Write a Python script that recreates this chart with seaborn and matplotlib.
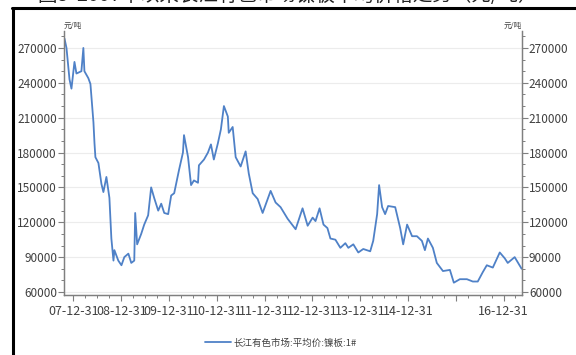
import numpy as np
import pandas as pd
import matplotlib
matplotlib.use('Agg')
from matplotlib import pyplot as plt
import matplotlib.dates as mdates
from matplotlib.lines import Line2D
import seaborn as sns

# 长江有色市场:平均价:镍板:1# (元/吨)
dates = ['2007-10-24', '2007-11-08', '2007-12-01', '2007-12-16', '2008-01-08', '2008-01-23',
         '2008-03-01', '2008-03-16', '2008-03-24', '2008-04-23', '2008-05-09', '2008-06-01',
         '2008-06-09', '2008-06-16', '2008-07-09', '2008-08-01', '2008-08-16', '2008-09-08',
         '2008-10-01', '2008-10-16', '2008-11-01', '2008-11-08', '2008-12-08', '2009-01-01',
         '2009-01-23', '2009-02-23', '2009-03-17', '2009-04-09', '2009-04-16', '2009-05-01',
         '2009-06-01', '2009-06-24', '2009-07-24', '2009-08-16', '2009-09-08', '2009-10-09',
         '2009-11-01', '2009-11-24', '2009-12-24', '2010-01-16', '2010-02-08', '2010-03-17',
         '2010-04-16', '2010-04-24', '2010-05-25', '2010-06-17', '2010-07-09', '2010-08-09',
         '2010-08-16', '2010-09-24', '2010-10-24', '2010-11-16', '2010-12-08', '2011-01-08',
         '2011-01-31', '2011-02-23', '2011-03-25', '2011-04-01', '2011-05-01', '2011-05-24',
         '2011-07-01', '2011-08-08', '2011-09-01', '2011-10-01', '2011-11-08', '2011-12-16',
         '2012-02-15', '2012-03-24', '2012-05-01', '2012-06-24', '2012-08-24', '2012-10-16',
         '2012-11-24', '2013-01-01', '2013-01-23', '2013-02-23', '2013-03-25', '2013-04-24',
         '2013-05-17', '2013-06-24', '2013-08-01', '2013-09-08', '2013-10-01', '2013-11-08',
         '2013-12-16', '2014-01-23', '2014-03-17', '2014-04-09', '2014-05-09', '2014-05-24',
         '2014-06-16', '2014-07-09', '2014-08-01', '2014-09-24', '2014-11-01', '2014-11-24',
         '2014-12-24', '2015-01-31', '2015-03-09', '2015-04-16', '2015-05-09', '2015-06-01',
         '2015-07-09', '2015-08-08', '2015-09-24', '2015-11-16', '2015-12-16', '2016-01-31',
         '2016-03-25', '2016-05-09', '2016-06-16', '2016-07-24', '2016-08-24', '2016-10-09',
         '2016-12-01', '2017-01-08', '2017-01-31', '2017-03-25', '2017-05-01', '2017-05-17']
prices = [278000, 270000, 243000, 235000, 258000, 248000,
          250000, 270000, 250000, 244000, 239000, 206000,
          188000, 176000, 171000, 153000, 146000, 159000,
          141000, 106000, 87000, 96000, 87000, 83000,
          90000, 93000, 85000, 87000, 128000, 101000,
          110000, 118000, 126000, 150000, 141000, 130000,
          136000, 128000, 127000, 143000, 145000, 165000,
          180000, 195000, 176000, 152000, 156000, 154000,
          169000, 174000, 180000, 187000, 174000, 188000,
          200000, 220000, 211000, 197000, 202000, 176000,
          168000, 181000, 162000, 145000, 140000, 128000,
          147000, 137000, 133000, 123000, 114000, 132000,
          117000, 124000, 121000, 132000, 118000, 115000,
          106000, 105000, 98000, 102000, 98000, 101000,
          94000, 97000, 95000, 104000, 127000, 152000,
          133000, 127000, 134000, 133000, 115000, 101000,
          118000, 108000, 108000, 104000, 96000, 106000,
          98000, 85000, 78000, 79000, 68000, 71000,
          71000, 69000, 69000, 77000, 83000, 81000,
          94000, 89000, 85000, 90000, 83000, 80000]

year_ticks = ['2007-12-31', '2008-12-31', '2009-12-31', '2010-12-31', '2011-12-31',
              '2012-12-31', '2013-12-31', '2014-12-31', '2015-12-31', '2016-12-31']
year_labels = ['07-12-31', '08-12-31', '09-12-31', '10-12-31', '11-12-31',
               '12-12-31', '13-12-31', '14-12-31', '', '16-12-31']
y_ticks = [60000, 90000, 120000, 150000, 180000, 210000, 240000, 270000]
series_name = '长江有色市场:平均价:镍板:1#'

df = pd.DataFrame({'date': pd.to_datetime(dates), 'price': prices})

sns.set_style('white')
plt.rcParams['font.family'] = ['Noto Sans CJK SC', 'DejaVu Sans']
plt.rcParams['axes.unicode_minus'] = False

line_c = '#4f81c7'
grey = '#7f7f7f'
txt = '#404040'

fig = plt.figure(figsize=(5.76, 3.55), dpi=100)
ax = fig.add_axes([64/576, 1-295/355, (522-64)/576, (295-31)/355])

sns.lineplot(data=df, x='date', y='price', ax=ax, color=line_c, lw=1.3,
             label=series_name, legend=False)

ylim = (57400, 284600)
ax.set_ylim(ylim)
ax.set_xlim(pd.Timestamp('2007-10-20'), pd.Timestamp('2017-05-20'))
ax.set_xlabel('')
ax.set_ylabel('')

ax.set_xticks(mdates.date2num(pd.to_datetime(year_ticks)))
ax.set_xticklabels(year_labels)
minor = pd.date_range('2007-12-31', '2017-03-31', freq='QE')
ax.set_xticks(mdates.date2num(minor), minor=True)

ax2 = ax.twinx()
for a in (ax, ax2):
    a.set_ylim(ylim)
    a.set_yticks(y_ticks)
    a.set_yticks(np.arange(60000, 280001, 10000), minor=True)
    a.set_yticklabels([str(v) for v in y_ticks])
    a.tick_params(axis='both', which='major', length=4, width=0.8, color=grey,
                  labelcolor=txt, labelsize=8.5, pad=1)
    a.tick_params(axis='both', which='minor', length=2.5, width=0.7, color=grey)
    for s in a.spines.values():
        s.set_color(grey)
        s.set_linewidth(0.9)
    a.spines['top'].set_visible(False)

ax.tick_params(axis='y', which='both', left=True, right=False)
ax2.tick_params(axis='y', which='both', right=True, left=False)
ax.tick_params(axis='x', which='both', bottom=True)
ax.tick_params(axis='x', which='major', pad=3, labelsize=9.0)
ax.grid(axis='y', color='#ececec', lw=0.8)
ax.set_axisbelow(True)

ax.text(0.0, 1.005, '元/吨', transform=ax.transAxes, fontsize=5.5, color=txt,
        ha='left', va='bottom')
ax.text(1.0, 1.005, '元/吨', transform=ax.transAxes, fontsize=5.5, color=txt,
        ha='right', va='bottom')

fig.legend(handles=[Line2D([], [], color=line_c, lw=1.3)], labels=[series_name],
           loc='center', bbox_to_anchor=(281/576, 1-343/355), frameon=False,
           fontsize=6.8, handlelength=2.7, handletextpad=0.3, labelcolor=txt)

# frame of the cut-out and the clipped caption above it
fig.add_artist(Line2D([12/576, 1], [1-8/355, 1-8/355], color='black', lw=2.2,
                      transform=fig.transFigure))
fig.add_artist(Line2D([13/576, 13/576], [0, 1-8/355], color='black', lw=2.2,
                      transform=fig.transFigure))
fig.text(0.5, 1 + 5/355, '图3  2007年以来长江有色市场镍板平均价格走势（元/吨）',
         ha='center', va='center', fontsize=14, color='#222222')

fig.savefig('out.png', dpi=100)
